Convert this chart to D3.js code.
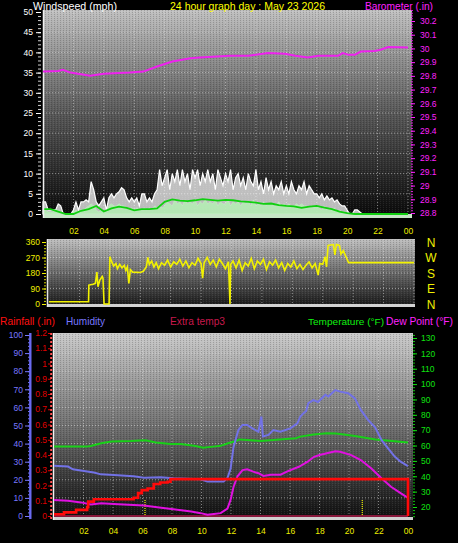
<!DOCTYPE html>
<html><head><meta charset="utf-8">
<script src="https://cdn.jsdelivr.net/npm/d3@7"></script>
<style>html,body{margin:0;padding:0;background:#000;overflow:hidden}svg{display:block}</style>
</head><body>
<svg id="c" width="458" height="543"></svg>
<script>
// ---------- DATA ----------
const hourTicks = [2,4,6,8,10,12,14,16,18,20,22,24];
const hourLabels = ["02","04","06","08","10","12","14","16","18","20","22","00"];
const windTicks = [0,5,10,15,20,25,30,35,40,45,50];
const baroTicks = [28.8,28.9,29.0,29.1,29.2,29.3,29.4,29.5,29.6,29.7,29.8,29.9,30.0,30.1,30.2];
const baroTickLabels = ["28.8","28.9","29","29.1","29.2","29.3","29.4","29.5","29.6","29.7","29.8","29.9","30","30.1","30.2"];
const dirTicks = [0,90,180,270,360];
const dirLetters = ["N","E","S","W","N"];
const humTicks = [0,10,20,30,40,50,60,70,80,90,100];
const rainTicks = [0,0.1,0.2,0.3,0.4,0.5,0.6,0.7,0.8,0.9,1.0,1.1,1.2];
const rainTickLabels = ["0","0.1","0.2","0.3","0.4","0.5","0.6","0.7","0.8","0.9","1","1.1","1.2"];
const tempTicks = [20,30,40,50,60,70,80,90,100,110,120,130];

// wind gust (mph), one value every 10 minutes, 00:00 .. 24:00
const windGust = [
 3,3,1,1,1,1,  2.5,2,0,0,0,0,  1,3,1,3,3,3.5,  3,8,6,3,2,3,
 4,1,4,5,4,5,  5.5,6.5,6,4,3,4,  3,4,2,5,5,3,  4,3,5,6,11,7,
 9,11,6,10,8,11,  7,11,8,10,6,11,  9,11,7,10,8,11,  8,10,6,11,9,7,
 10,8,11,6,9,10,  7,9,6,10,8,7,  11,6,8,5,9,6,  8,5,7,6,8,5,
 7,5,8,6,5,7,  6,8,5,7,6,5,  5,4,5,3.5,4.5,3.5,  4,3,3.5,2.5,2,2,
 1,0,0,1,1,0.5,  0,0,0,0,0,0,  0,0,0,0,0,0,  0,0,0,0,0,0,  0];
// wind speed (mph), one value every 10 minutes
const windSpeed = [
 1,1,0.5,0.5,0.5,1,  1,0.5,0,0,0,0,  0.5,1,0.5,1,1,1.5,  2,2.5,2,1,0.5,1,
 0.5,0.5,2,2.5,2,2,  2.5,2,2,1.5,1,1.5,  1,1.5,1,1,1.5,1,  1.5,1,2,1.5,2,1.5,
 2,3,2.5,2,3.5,2.5,  3,2,3.5,2.5,3,2.5,  3.5,2,3,2.5,3.5,2.5,  3,2.5,3.5,2,3,2.5,
 2.5,3.5,2,3,2.5,3,  2,3,2.5,3,2,3.5,  2,2.5,2,3,2,2.5,  2.5,2,2,3,2,2.5,
 2,2.5,2,2,2.5,2,  2.5,2,2,1.5,2,1.5,  2,1.5,1,2,1,1.5,  1,1.5,0.5,1,0.5,0.5,
 0.3,0.2,0,0,0,0,  0,0,0,0,0,0,  0,0,0,0,0,0,  0,0,0,0,0,0,  0];
// average wind speed (mph), one value every 30 minutes
const windAvg = [1.2,1.2,0.6,0,0,0.8,1.2,2,0.6,1.4,1.8,1.5,0.9,1.2,1.2,1.4,3,3.6,3.3,3.2,3.4,3.7,3.5,3.3,
 3.5,3.4,3.1,3,2.8,2.5,2.6,2.2,2,1.9,1.5,1.8,2,1.6,1.2,0.6,0.2,0,0,0,0,0,0,0,0];

const baroHours = [0,1,1.3,1.8,3.1,4,5.7,6.6,7.5,8.5,9.7,10.3,12.3,13.5,14.8,15.9,16.6,17.4,18.1,19.4,19.7,20.1,20.5,20.9,21.8,22.2,22.7,24];
const baroValues = [29.831,29.836,29.844,29.824,29.80,29.815,29.824,29.831,29.868,29.904,29.929,29.934,29.946,29.946,29.966,29.961,29.946,29.934,29.946,29.946,29.966,29.953,29.953,29.977,29.982,29.99,30.01,30.007];

const dirHours = [0,2.6,2.62,2.9,3.05,3.15,3.22,3.35,3.5,3.55,3.62,3.95,4.0,4.1,4.25,4.4,4.5,4.65,4.8,4.95,5.05,5.15,5.25,5.35,5.5,6.0,6.2,6.4,6.5,6.6,6.75,6.9,7.05,
 7.2,7.4,7.6,7.8,8.0,8.2,8.4,8.6,8.8,9.0,9.2,9.4,9.6,9.8,10.0,10.1,10.2,10.4,10.6,10.8,11.0,11.2,11.4,11.6,11.8,11.9,11.95,
 12.1,12.3,12.5,12.7,12.9,13.1,13.3,13.5,13.7,13.9,14.1,14.3,14.5,14.7,14.9,15.1,15.3,15.5,15.7,15.9,16.1,16.3,16.5,16.7,16.9,17.1,17.3,17.5,17.7,17.8,18.0,
 18.15,18.25,18.35,18.7,18.8,18.9,19.1,19.2,19.35,19.5,19.7,24];
const dirValues = [13,13,110,115,120,185,100,140,160,150,0,0,275,250,220,235,205,230,210,225,195,215,120,200,185,183,190,215,270,230,250,215,240,
 205,240,225,255,215,245,230,260,220,250,210,240,225,265,235,150,240,270,230,255,215,260,235,205,245,0,230,
 250,210,255,195,240,220,265,205,250,230,260,200,245,225,255,210,240,195,235,215,250,205,230,200,225,245,210,235,168,235,230,
 275,215,340,345,285,345,340,290,310,280,240,240];

const tempHours = [0,2.2,2.5,3.2,3.9,5.2,6.2,6.9,7.9,8.6,9.6,10.1,10.8,11.3,11.8,12.3,12.6,13.1,14,15.3,16.4,16.7,17.6,18.5,19.1,19.4,20.4,21.8,23.1,24];
const tempValues = [59.3,59.3,59.7,61.5,62.7,63,63.5,62,61,61,59.7,58.6,59.3,59.8,61.5,62.8,64,63.6,63,64,64.8,65.8,67.2,68,67.8,67.5,66.2,64,62.8,62];

const humHours = [0,0.95,1.28,2.03,2.7,3.18,4.06,5.4,6.1,7.23,8.1,9.94,10.4,11.5,11.76,11.97,12.17,12.5,12.78,13.1,13.45,13.86,14.06,14.16,14.54,14.87,15.35,16.02,16.5,16.7,16.9,17.1,17.24,17.58,17.9,18.4,18.6,19.07,19.4,19.95,20.4,20.8,21.3,21.77,22.2,22.65,23.1,23.5,24];
const humValues = [27.8,27.3,25.8,24.9,24,23,22.6,22,21.2,21.4,20.8,20.3,19,19,21,26,38,47.5,50.3,50.3,48.4,46.6,55,44,44.8,47.5,46.6,48.4,51.2,55,56.7,58,62.3,64,63,67,66,69.6,68.7,67.8,65,58.6,53,49,42,37.4,32.8,30,27.5];

const dewHours = [0,0.95,1.83,2.5,3.2,4.06,5.4,6.1,7.0,8.1,9.3,9.94,10.4,10.84,11.3,11.76,11.97,12.17,12.44,12.78,13.1,13.5,13.86,14.2,14.7,15.35,15.9,16.6,17.2,17.6,18.0,18.5,19.07,19.4,20.15,20.8,21.5,22.2,22.85,23.5,24];
const dewValues = [24.6,24,23,21.7,22.4,22,21.3,20.9,19.8,18.5,17,16,15,15.5,16,19,24.6,33,40,44,44.5,43,42,40.2,41,41,43.5,46.2,49.5,52.5,53.8,55,56.3,56,53.8,50.6,45.2,38.7,33.2,29,26];

const rainHours = [0,0.68,1.5,2.25,2.32,2.7,5.4,5.7,5.95,6.35,6.76,7.2,7.7,7.9,24,24];
const rainValues = [0.011,0.024,0.04,0.057,0.094,0.11,0.12,0.15,0.17,0.18,0.21,0.22,0.225,0.242,0.242,0];

const extraHours = [0,24];
const extraTemp3 = [14.1,14.1];

const sunHours = [6.17,20.9];

// ---------- DRAWING ----------
const svg = d3.select("#c");
const FONT = "'Liberation Sans', Arial, sans-serif";
svg.append("rect").attr("width",458).attr("height",543).attr("fill","#000");

const defs = svg.append("defs");
function grad(id, stops){
  const g = defs.append("linearGradient").attr("id",id).attr("x1",0).attr("y1",0).attr("x2",0).attr("y2",1);
  stops.forEach(s=>g.append("stop").attr("offset",s[0]).attr("stop-color",s[1]));
}
grad("g1",[[0,"#c0c0c0"],[0.5,"#585858"],[1,"#0a0a0a"]]);
grad("g2",[[0,"#c0c0c0"],[0.5,"#6a6a6a"],[1,"#1a1a1a"]]);
grad("g3",[[0,"#cacaca"],[0.5,"#707070"],[1,"#0e0e0e"]]);
const pat = defs.append("pattern").attr("id","dith").attr("width",3).attr("height",2).attr("patternUnits","userSpaceOnUse");
pat.append("rect").attr("x",0).attr("y",0).attr("width",1).attr("height",1).attr("fill","#000").attr("opacity",0.18);
pat.append("rect").attr("x",2).attr("y",1).attr("width",1).attr("height",1).attr("fill","#fff").attr("opacity",0.08);

function txt(x,y,s,color,size,len,anchor){
  const t = svg.append("text").attr("x",x).attr("y",y).text(s).attr("fill",color)
   .attr("font-family",FONT).attr("font-size",size).attr("text-anchor",anchor||"start");
  if(len) t.attr("textLength",len).attr("lengthAdjust","spacingAndGlyphs");
  return t;
}
function styleAxis(g, color, fs){
  g.select(".domain").remove();
  g.selectAll(".tick line").attr("stroke",color);
  g.selectAll(".tick text").attr("fill",color).attr("font-family",FONT).attr("font-size",fs||8.5);
}
const gridStyle = s => s.attr("stroke","#dcdcdc").attr("stroke-opacity",0.55).attr("stroke-dasharray","1,2").attr("stroke-width",1);

// ===== TOP PANEL =====
const xTop = d3.scaleLinear().domain([0,24]).range([43,408]);
const windY = d3.scaleLinear().domain([0,50]).range([214,12]);
const baroY = d3.scaleLinear().domain([28.8,30.2]).range([213,21]);

svg.append("rect").attr("x",43).attr("y",10).attr("width",369).attr("height",205).attr("fill","url(#g1)");
svg.append("rect").attr("x",43).attr("y",10).attr("width",369).attr("height",205).attr("fill","url(#dith)");
const gTopGrid = svg.append("g");
gTopGrid.selectAll("line.v").data(hourTicks).join("line").attr("x1",d=>xTop(d)).attr("x2",d=>xTop(d)).attr("y1",10).attr("y2",214).call(gridStyle);
gTopGrid.selectAll("line.h").data(windTicks.slice(1)).join("line").attr("class","h").attr("x1",43).attr("x2",411).attr("y1",d=>windY(d)).attr("y2",d=>windY(d)).call(gridStyle);

const tenMin = (d,i)=>xTop(i/6);
svg.append("path").datum(windGust).attr("fill","#ffffff").attr("fill-opacity",0.72).attr("stroke","#ffffff").attr("stroke-width",1.2)
  .attr("d", d3.area().x(tenMin).y0(windY(0)).y1(d=>windY(d)));
svg.append("path").datum(windSpeed).attr("fill","#b4ecb4").attr("fill-opacity",0.9).attr("stroke","#c4f4c4").attr("stroke-width",0.6)
  .attr("d", d3.area().x(tenMin).y0(windY(0)).y1(d=>windY(d)));
svg.append("rect").attr("x",43).attr("y",214).attr("width",369).attr("height",4).attr("fill","#c6e6c6");
svg.append("path").datum(windAvg).attr("fill","none").attr("stroke","#10d010").attr("stroke-width",1.8)
  .attr("d", d3.line().x((d,i)=>xTop(i/2)).y(d=>windY(d)));
svg.append("line").attr("x1",43.5).attr("x2",43.5).attr("y1",10).attr("y2",218).attr("stroke","#f0f0f0").attr("stroke-width",1.5);
svg.append("path").datum(baroHours.map((h,i)=>[h,baroValues[i]])).attr("fill","none").attr("stroke","#ee22ee").attr("stroke-width",2)
  .attr("d", d3.line().x(d=>xTop(d[0])).y(d=>baroY(d[1])));

// axes top
let ax = svg.append("g").attr("transform","translate(41,0)").call(d3.axisLeft(windY).tickValues(d3.range(0,50.5,1)).tickSize(3).tickFormat(""));
styleAxis(ax,"#d0d0d0");
ax = svg.append("g").attr("transform","translate(41,0)").call(d3.axisLeft(windY).tickValues(windTicks).tickSize(5).tickPadding(3));
styleAxis(ax,"#ffffff");
ax = svg.append("g").attr("transform","translate(411,0)").call(d3.axisRight(baroY).tickValues(d3.range(28.8,30.29,0.02)).tickSize(2).tickFormat(""));
styleAxis(ax,"#dd22dd");
ax = svg.append("g").attr("transform","translate(411,0)").call(d3.axisRight(baroY).tickValues(baroTicks).tickSize(4).tickPadding(5).tickFormat((d,i)=>baroTickLabels[i]));
styleAxis(ax,"#ff22ff");
ax = svg.append("g").attr("transform","translate(0,225)").call(d3.axisBottom(xTop).tickValues(hourTicks).tickSize(0).tickPadding(3).tickFormat((d,i)=>hourLabels[i]));
styleAxis(ax,"#eeee00");

txt(33,9.5,"Windspeed (mph)","#ffffff",10.6,84);
txt(170,9.5,"24 hour graph day : May 23 2026","#ffff00",10.6,155);
txt(365,9.5,"Barometer (.in)","#ff22ff",10.6,68);

// ===== WIND DIRECTION PANEL =====
const xDir = d3.scaleLinear().domain([0,24]).range([49,414]);
const dirY = d3.scaleLinear().domain([0,360]).range([304,242]);
svg.append("rect").attr("x",47).attr("y",239).attr("width",368).attr("height",66).attr("fill","url(#g2)");
svg.append("rect").attr("x",47).attr("y",239).attr("width",368).attr("height",66).attr("fill","url(#dith)");
const gDirGrid = svg.append("g");
gDirGrid.selectAll("line.v").data(hourTicks).join("line").attr("x1",d=>xDir(d)).attr("x2",d=>xDir(d)).attr("y1",239).attr("y2",304).call(gridStyle);
gDirGrid.selectAll("line.h").data(dirTicks.slice(1,4)).join("line").attr("class","h").attr("x1",47).attr("x2",415).attr("y1",d=>dirY(d)).attr("y2",d=>dirY(d)).call(gridStyle);
svg.append("rect").attr("x",47).attr("y",304).attr("width",368).attr("height",3).attr("fill","#d2d2d2");
svg.append("line").attr("x1",47.5).attr("x2",47.5).attr("y1",239).attr("y2",307).attr("stroke","#e8e8e8").attr("stroke-width",1.5);
svg.append("path").datum(dirHours.map((h,i)=>[h,dirValues[i]])).attr("fill","none").attr("stroke","#f2f200").attr("stroke-width",1.6)
  .attr("d", d3.line().x(d=>xDir(d[0])).y(d=>dirY(d[1])));
ax = svg.append("g").attr("transform","translate(46,0)").call(d3.axisLeft(dirY).tickValues(d3.range(0,361,18)).tickSize(2).tickFormat(""));
styleAxis(ax,"#d8d800");
ax = svg.append("g").attr("transform","translate(46,0)").call(d3.axisLeft(dirY).tickValues(dirTicks).tickSize(4).tickPadding(2));
styleAxis(ax,"#f0f000");
svg.append("g").selectAll("text").data(dirTicks).join("text")
  .attr("x",431).attr("y",d=>dirY(d)+4.5).attr("text-anchor","middle").attr("fill","#f0f000")
  .attr("font-family",FONT).attr("font-size",12).text((d,i)=>dirLetters[i]);

// ===== LOWER PANEL =====
const xLow = d3.scaleLinear().domain([0,24]).range([54,408]);
const humY = d3.scaleLinear().domain([0,100]).range([516,335]);
const rainY = d3.scaleLinear().domain([0,1.2]).range([516,333]);
const tempY = d3.scaleLinear().domain([20,130]).range([507,338]);

txt(0,325,"Rainfall (.in)","#ff1010",10.3,55);
txt(66,325,"Humidity","#7878ff",10.2,39);
txt(170,325,"Extra temp3","#c8184c",10.2,55);
txt(308,325,"Temperature (\u00b0F)","#10f010",9.9,76);
txt(386,325,"Dew Point (\u00b0F)","#ff22ff",10.3,67);

svg.append("rect").attr("x",53).attr("y",333).attr("width",360).attr("height",185).attr("fill","url(#g3)");
svg.append("rect").attr("x",53).attr("y",333).attr("width",360).attr("height",185).attr("fill","url(#dith)");
const gLowGrid = svg.append("g");
gLowGrid.selectAll("line.v").data(hourTicks).join("line").attr("x1",d=>xLow(d)).attr("x2",d=>xLow(d)).attr("y1",333).attr("y2",516).call(gridStyle);
gLowGrid.selectAll("line.h").data(humTicks.slice(1,10)).join("line").attr("class","h").attr("x1",53).attr("x2",413).attr("y1",d=>humY(d)).attr("y2",d=>humY(d)).call(gridStyle);
svg.append("rect").attr("x",53).attr("y",517).attr("width",360).attr("height",3).attr("fill","#cfcfcf");
svg.append("line").attr("x1",53.5).attr("x2",53.5).attr("y1",333).attr("y2",520).attr("stroke","#f4f4f4").attr("stroke-width",1.5);

// sunrise / sunset markers
svg.append("g").selectAll("line").data(sunHours).join("line")
  .attr("x1",d=>xLow(d)).attr("x2",d=>xLow(d)).attr("y1",500).attr("y2",518)
  .attr("stroke","#f0f000").attr("stroke-width",1.2).attr("stroke-dasharray","1,1");

const pairs = (hs,vs)=>hs.map((h,i)=>[h,vs[i]]);
svg.append("path").datum(pairs(extraHours,extraTemp3)).attr("fill","none").attr("stroke","#88183c").attr("stroke-width",2)
  .attr("d", d3.line().x(d=>xLow(d[0])).y(d=>tempY(d[1])));
svg.append("path").datum(pairs(tempHours,tempValues)).attr("fill","none").attr("stroke","#18d018").attr("stroke-width",2)
  .attr("d", d3.line().x(d=>xLow(d[0])).y(d=>tempY(d[1])));
svg.append("path").datum(pairs(humHours,humValues)).attr("fill","none").attr("stroke","#7272e6").attr("stroke-width",2)
  .attr("d", d3.line().x(d=>xLow(d[0])).y(d=>humY(d[1])));
svg.append("path").datum(pairs(dewHours,dewValues)).attr("fill","none").attr("stroke","#e010e0").attr("stroke-width",2)
  .attr("d", d3.line().x(d=>xLow(d[0])).y(d=>tempY(d[1])));
svg.append("path").datum(pairs(rainHours,rainValues)).attr("fill","none").attr("stroke","#ff0a0a").attr("stroke-width",2.6)
  .attr("d", d3.line().curve(d3.curveStepAfter).x(d=>xLow(d[0])).y(d=>rainY(d[1])));

// humidity axis
ax = svg.append("g").attr("transform","translate(30,0)").call(d3.axisLeft(humY).tickValues(d3.range(0,101,2)).tickSize(2).tickFormat(""));
styleAxis(ax,"#7070ee");
ax = svg.append("g").attr("transform","translate(30,0)").call(d3.axisLeft(humY).tickValues(humTicks).tickSize(5).tickPadding(2));
styleAxis(ax,"#7878ff");
svg.append("line").attr("x1",30.3).attr("x2",30.3).attr("y1",333).attr("y2",519).attr("stroke","#6a6af0").attr("stroke-width",2.4);
// rain axis
ax = svg.append("g").attr("transform","translate(51,0)").call(d3.axisLeft(rainY).tickValues(rainTicks).tickSize(3).tickPadding(1).tickFormat((d,i)=>rainTickLabels[i]));
styleAxis(ax,"#e00000");
svg.append("line").attr("x1",51.2).attr("x2",51.2).attr("y1",333).attr("y2",519).attr("stroke","#ff5050").attr("stroke-width",2).attr("stroke-dasharray","2,2");
// temperature axis
ax = svg.append("g").attr("transform","translate(413,0)").call(d3.axisRight(tempY).tickValues(d3.range(14,133,2)).tickSize(2).tickFormat(""));
styleAxis(ax,"#10c010");
ax = svg.append("g").attr("transform","translate(413,0)").call(d3.axisRight(tempY).tickValues(tempTicks).tickSize(4).tickPadding(4));
styleAxis(ax,"#10e010");
ax = svg.append("g").attr("transform","translate(0,528)").call(d3.axisBottom(xLow).tickValues(hourTicks).tickSize(0).tickPadding(0).tickFormat((d,i)=>hourLabels[i]));
styleAxis(ax,"#eeee00");
</script>
</body></html>
